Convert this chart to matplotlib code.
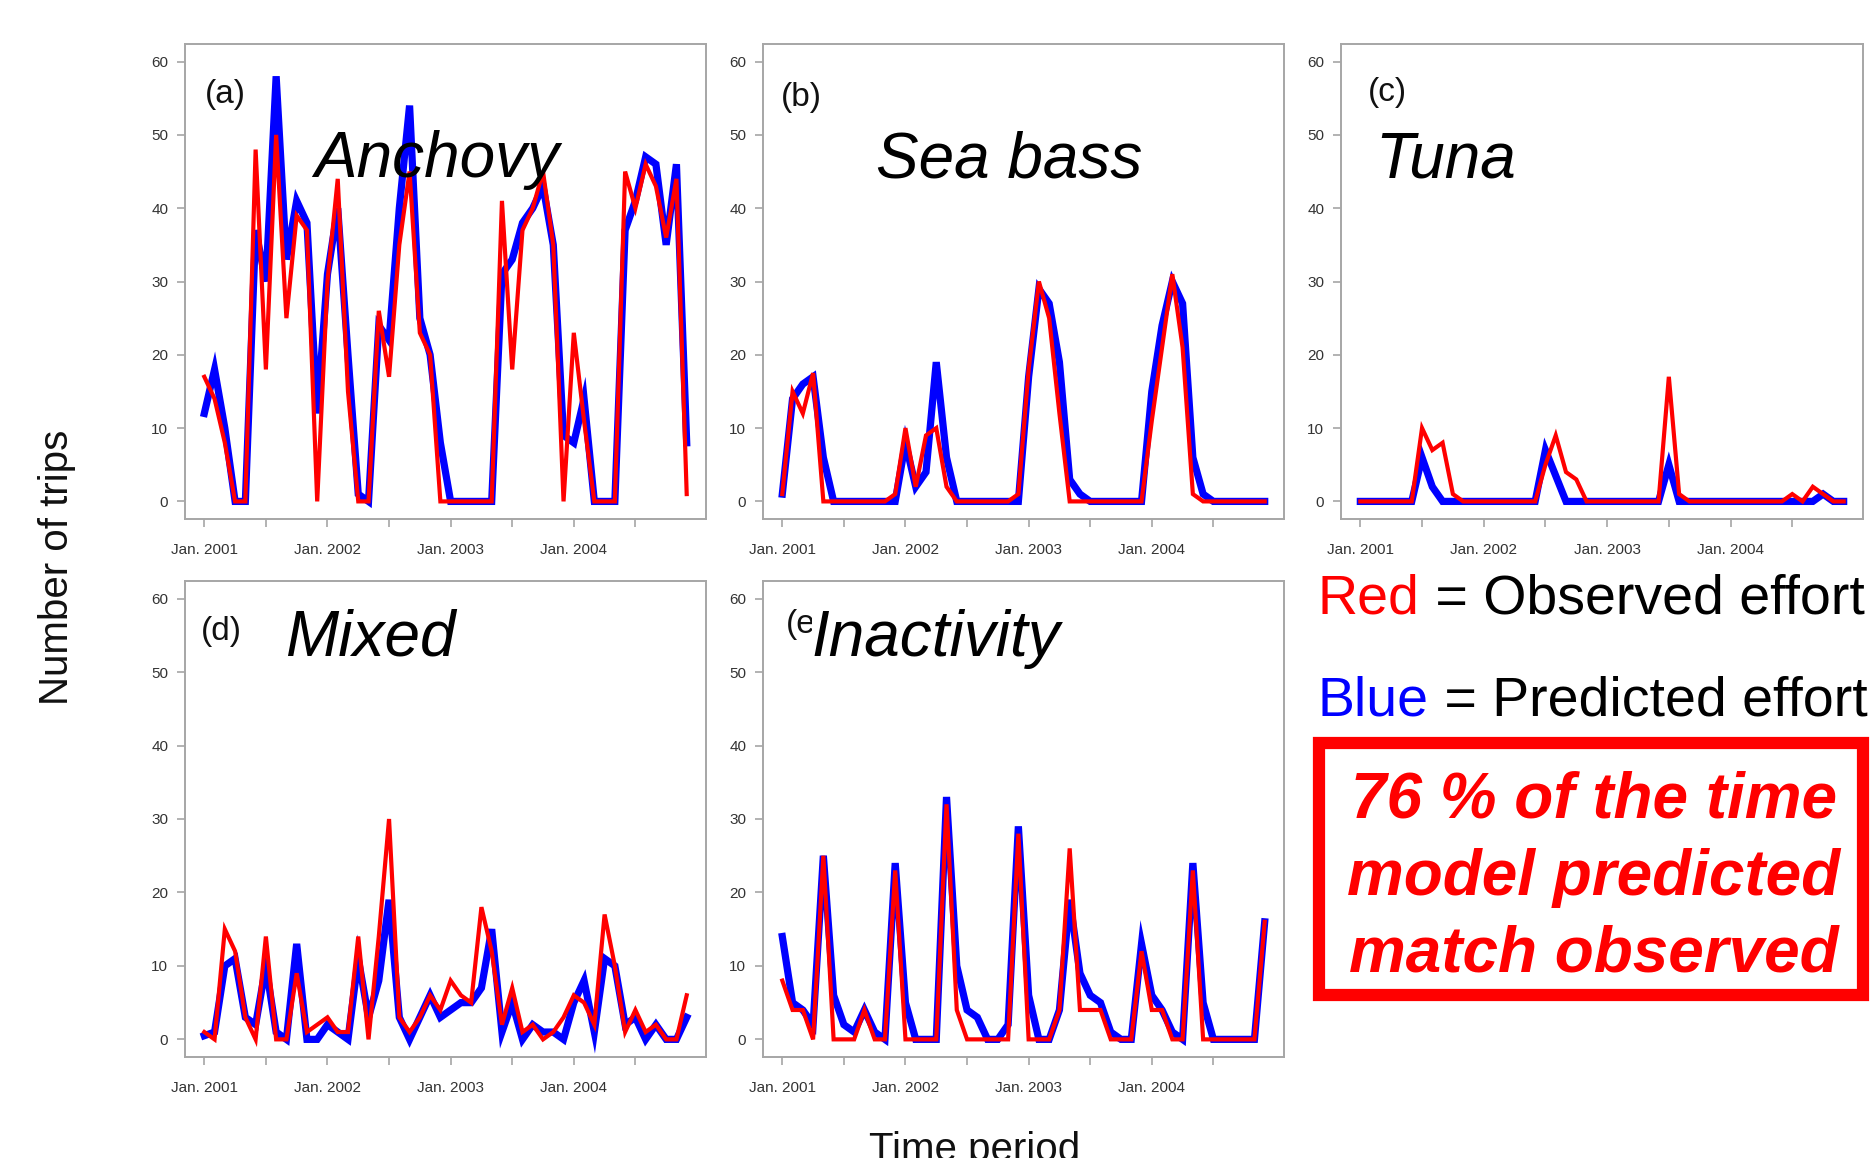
import matplotlib
matplotlib.use('Agg')
import matplotlib.pyplot as plt
from matplotlib.patches import Rectangle
import numpy as np

plt.rcParams['font.family'] = ['Liberation Sans', 'DejaVu Sans']

# ---------------- data (monthly, Jan 2001 - Dec 2004) ----------------
months = np.arange(48)
tick_positions = np.arange(0, 48, 6)
tick_labels = ['Jan. 2001', '', 'Jan. 2002', '', 'Jan. 2003', '', 'Jan. 2004', '']
y_ticks = [0, 10, 20, 30, 40, 50, 60]

anchovy_obs = [17, 14, 8, 0, 0, 48, 18, 50, 25, 39, 37, 0,
               30, 44, 15, 0, 0, 26, 17, 35, 45, 23, 20, 0,
               0, 0, 0, 0, 0, 41, 18, 37, 40, 45, 35, 0,
               23, 11, 0, 0, 0, 45, 40, 46, 43, 36, 44, 1]
anchovy_pred = [12, 18, 10, 0, 0, 37, 30, 58, 33, 41, 38, 12,
                31, 40, 20, 1, 0, 24, 22, 40, 54, 25, 20, 8,
                0, 0, 0, 0, 0, 31, 33, 38, 40, 43, 35, 9,
                8, 14, 0, 0, 0, 37, 41, 47, 46, 35, 46, 8]

seabass_obs = [1, 15, 12, 17.5, 0, 0, 0, 0, 0, 0, 0, 1,
               10, 2, 9, 10, 2, 0, 0, 0, 0, 0, 0, 1,
               18, 30, 25, 12, 0, 0, 0, 0, 0, 0, 0, 0,
               11, 21, 31, 21, 1, 0, 0, 0, 0, 0, 0, 0]
seabass_pred = [1, 14, 16, 17, 6, 0, 0, 0, 0, 0, 0, 0,
                8, 2, 4, 19, 6, 0, 0, 0, 0, 0, 0, 0,
                17, 29, 27, 19, 3, 1, 0, 0, 0, 0, 0, 0,
                15, 24, 30, 27, 6, 1, 0, 0, 0, 0, 0, 0]

tuna_obs = [0, 0, 0, 0, 0, 0, 10, 7, 8, 1, 0, 0,
            0, 0, 0, 0, 0, 0, 5, 9, 4, 3, 0, 0,
            0, 0, 0, 0, 0, 0, 17, 1, 0, 0, 0, 0,
            0, 0, 0, 0, 0, 0, 1, 0, 2, 1, 0, 0]
tuna_pred = [0, 0, 0, 0, 0, 0, 6, 2, 0, 0, 0, 0,
             0, 0, 0, 0, 0, 0, 7, 3.5, 0, 0, 0, 0,
             0, 0, 0, 0, 0, 0, 5, 0, 0, 0, 0, 0,
             0, 0, 0, 0, 0, 0, 0, 0, 0, 1, 0, 0]

mixed_obs = [1, 0, 15, 12, 3, 0, 14, 0, 0, 9, 1, 2,
             3, 1, 1, 14, 0, 14, 30, 3, 1, 3, 6, 4,
             8, 6, 5, 18, 12, 2, 7, 1, 2, 0, 1, 3,
             6, 5, 2, 17, 10, 1, 4, 1, 2, 0, 0, 6]
mixed_pred = [0.5, 1, 10, 11, 3, 2, 10, 1, 0, 13, 0, 0,
              2, 1, 0, 11, 3, 8, 19, 3, 0, 3, 6, 3,
              4, 5, 5, 7, 15, 1, 5, 0, 2, 1, 1, 0,
              5, 8, 1, 11, 10, 2, 3, 0, 2, 0, 0, 3]

inactivity_obs = [8, 4, 4, 0, 25, 0, 0, 0, 4, 0, 0, 23,
                  0, 0, 0, 0, 32, 4, 0, 0, 0, 0, 0, 28,
                  0, 0, 0, 4, 26, 4, 4, 4, 0, 0, 0, 12,
                  4, 4, 0, 0, 23, 0, 0, 0, 0, 0, 0, 16]
inactivity_pred = [14, 5, 4, 2, 25, 6, 2, 1, 4, 1, 0, 24,
                   5, 0, 0, 0, 33, 10, 4, 3, 0, 0, 2, 29,
                   6, 0, 0, 4, 19, 9, 6, 5, 1, 0, 0, 13,
                   6, 4, 1, 0, 24, 5, 0, 0, 0, 0, 0, 16]

panel_letters = ['(a)', '(b)', '(c)', '(d)', '(e)']
species_names = ['Anchovy', 'Sea bass', 'Tuna', 'Mixed', 'Inactivity']
observed = [anchovy_obs, seabass_obs, tuna_obs, mixed_obs, inactivity_obs]
predicted = [anchovy_pred, seabass_pred, tuna_pred, mixed_pred, inactivity_pred]

# ---------------- layout ----------------
W, H = 1872, 1158
fig = plt.figure(figsize=(W / 100, H / 100), dpi=100)

def fx(px):
    return px / W

def fy(py):
    return 1 - py / H

# axes boxes in pixel coords: left, top, right, bottom
boxes = [(185, 44, 706, 519), (763, 44, 1284, 519), (1341, 44, 1863, 519),
         (185, 581, 706, 1057), (763, 581, 1284, 1057)]
letter_pos = [(205, 103), (781, 106), (1368, 101), (201, 640), (786, 633)]
name_pos = [(437, 177), (1009, 177), (1446, 177), (370, 655), (936, 656)]

BLUE = '#0000FF'
RED = '#FF0000'
GRAY = '#A6A6A6'

for i in range(5):
    l, t, r, b = boxes[i]
    ax = fig.add_axes([fx(l), fy(b), (r - l) / W, (b - t) / H])
    ax.plot(months, predicted[i], color=BLUE, lw=5.2, solid_joinstyle='miter', zorder=2)
    ax.plot(months, observed[i], color=RED, lw=3.0, solid_joinstyle='miter', zorder=3)
    ax.set_xlim(-47 * 0.04, 47 * 1.04)
    ax.set_ylim(-2.4, 62.4)
    ax.set_xticks(tick_positions)
    ax.set_xticklabels(tick_labels)
    ax.set_yticks(y_ticks)
    for s in ax.spines.values():
        s.set_color(GRAY)
        s.set_linewidth(1.4)
    ax.tick_params(axis='both', direction='out', length=6, width=1.2,
                   color=GRAY, labelcolor='#333333', labelsize=11)
    ax.tick_params(axis='x', pad=11)
    ax.tick_params(axis='y', pad=6)

    lx, ly = letter_pos[i]
    fig.text(fx(lx), fy(ly), panel_letters[i], fontsize=24, ha='left',
             va='baseline', color='#111111', zorder=5)
    nx, ny = name_pos[i]
    kw = {}
    if species_names[i] == 'Inactivity':
        kw['bbox'] = dict(facecolor='white', edgecolor='none', pad=0)
    fig.text(fx(nx), fy(ny), species_names[i], fontsize=46, style='italic',
             ha='center', va='baseline', color='black', zorder=6, **kw)

# axis titles
fig.text(fx(57), fy(567), 'Number of trips', rotation=90, fontsize=29,
         ha='center', va='center', color='#111111')
fig.text(fx(975), fy(1161), 'Time period', fontsize=29, ha='center',
         va='baseline', color='#111111')

# legend text with coloured keywords
fig.canvas.draw()
renderer = fig.canvas.get_renderer()

def two_color_line(x_px, base_px, word, color, rest):
    t1 = fig.text(fx(x_px), fy(base_px), word, fontsize=40, color=color,
                  ha='left', va='baseline')
    bb = t1.get_window_extent(renderer=renderer)
    fig.text(bb.x1 / W, fy(base_px), rest, fontsize=40, color='black',
             ha='left', va='baseline')

two_color_line(1318, 614, 'Red', RED, ' = Observed effort')
two_color_line(1318, 716, 'Blue', BLUE, ' = Predicted effort')

# red box with statement
rect = Rectangle((fx(1319), fy(995)), (1863 - 1319) / W, (995 - 743) / H,
                 transform=fig.transFigure, fill=False, edgecolor=RED,
                 linewidth=8.8, joinstyle='miter', clip_on=False)
fig.patches.append(rect)
statement_lines = ['76 % of the time', 'model predicted', 'match observed']
for k, line in enumerate(statement_lines):
    fig.text(fx(1594), fy(818 + 77 * k), line, fontsize=46, color=RED,
             fontweight='bold', style='italic', ha='center', va='baseline')

fig.savefig('out.png', dpi=100)
